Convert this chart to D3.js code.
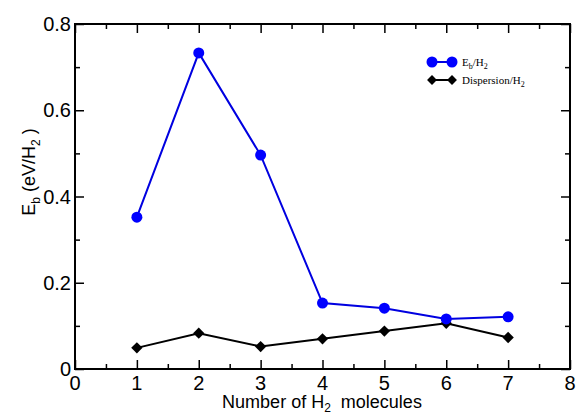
<!DOCTYPE html>
<html>
<head>
<meta charset="utf-8">
<script src="https://cdn.jsdelivr.net/npm/d3@7"></script>
<style>
  body { margin: 0; background: #fff; }
  text { font-family: "Liberation Sans", Arial, sans-serif; }
  .leg { font-family: "Liberation Serif", "Times New Roman", serif; font-size: 11px; }
</style>
</head>
<body>
<div class="chart"></div>
<script>
// data
const molecules = [1, 2, 3, 4, 5, 6, 7];
const ebPerH2 = [0.352, 0.733, 0.496, 0.153, 0.141, 0.116, 0.121];
const dispersionPerH2 = [0.049, 0.083, 0.052, 0.070, 0.088, 0.106, 0.073];
const xTicks = [0, 1, 2, 3, 4, 5, 6, 7, 8];
const yTicks = [0, 0.2, 0.4, 0.6, 0.8];

let margin = {top: 24, right: 7, left: 75, bottom: 47};
let outWidth = 577, outHeight = 416;
let width = outWidth - margin.left - margin.right,
    height = outHeight - margin.top - margin.bottom;

const svg = d3.select(".chart").append("svg")
  .attr("width", outWidth)
  .attr("height", outHeight);

const g = svg.append("g")
  .attr("transform", `translate(${margin.left}, ${margin.top})`);

let xScale = d3.scaleLinear().domain([0, 8]).range([0, width]);
let yScale = d3.scaleLinear().domain([0, 0.8]).range([height, 0]);

// minor and major ticks on all four sides, pointing inwards
const xMinor = d3.range(0.5, 8, 1);
const yMinor = d3.range(0.1, 0.8, 0.2);

function tickAxis(axisFn, scale, values, size, transform) {
  g.append("g")
    .attr("transform", transform)
    .call(axisFn(scale).tickValues(values).tickSize(size).tickFormat(""))
    .call(a => a.select(".domain").remove())
    .selectAll("line").attr("stroke", "#000").attr("stroke-width", 1.5);
}
tickAxis(d3.axisTop, xScale, xTicks, 9, `translate(0,${height})`);
tickAxis(d3.axisTop, xScale, xMinor, 5, `translate(0,${height})`);
tickAxis(d3.axisBottom, xScale, xTicks, 9, "translate(0,0)");
tickAxis(d3.axisBottom, xScale, xMinor, 5, "translate(0,0)");
tickAxis(d3.axisRight, yScale, yTicks, 9, "translate(0,0)");
tickAxis(d3.axisRight, yScale, yMinor, 5, "translate(0,0)");
tickAxis(d3.axisLeft, yScale, yTicks, 9, `translate(${width},0)`);
tickAxis(d3.axisLeft, yScale, yMinor, 5, `translate(${width},0)`);

g.append("rect")
  .attr("width", width)
  .attr("height", height)
  .attr("fill", "none")
  .attr("stroke", "#000")
  .attr("stroke-width", 2);

// tick labels
g.selectAll(".xlab").data(xTicks).enter().append("text")
  .attr("x", d => xScale(d))
  .attr("y", height + 21)
  .attr("text-anchor", "middle")
  .attr("font-size", 20)
  .text(d => d);

g.selectAll(".ylab").data(yTicks).enter().append("text")
  .attr("x", -4)
  .attr("y", d => yScale(d) + 7)
  .attr("text-anchor", "end")
  .attr("font-size", 20)
  .text(d => d === 0 ? "0" : d.toFixed(1));

// axis titles
const xt = svg.append("text")
  .attr("x", 322)
  .attr("y", 408)
  .attr("text-anchor", "middle")
  .attr("font-size", 18);
xt.append("tspan").text("Number of H");
xt.append("tspan").attr("font-size", 12).attr("dy", 4).text("2");
xt.append("tspan").attr("dy", -4).text("\u00a0 molecules");

const yt = svg.append("text")
  .attr("transform", "translate(35,172) rotate(-90)")
  .attr("text-anchor", "middle")
  .attr("font-size", 18);
yt.append("tspan").text("E");
yt.append("tspan").attr("font-size", 12).attr("dy", 5).text("b");
yt.append("tspan").attr("dy", -5).text(" (eV/H");
yt.append("tspan").attr("font-size", 12).attr("dy", 5).text("2");
yt.append("tspan").attr("dy", -5).text("\u00a0)");

// series
const line = d3.line().x(d => xScale(d[0])).y(d => yScale(d[1]));
const ebData = molecules.map((m, i) => [m, ebPerH2[i]]);
const dispData = molecules.map((m, i) => [m, dispersionPerH2[i]]);

g.append("path").datum(dispData)
  .attr("d", line).attr("fill", "none").attr("stroke", "#000").attr("stroke-width", 2);
g.selectAll(".dia").data(dispData).enter().append("path")
  .attr("transform", d => `translate(${xScale(d[0])},${yScale(d[1])}) rotate(45)`)
  .attr("d", "M-4,-4H4V4H-4Z")
  .attr("fill", "#000");

g.append("path").datum(ebData)
  .attr("d", line).attr("fill", "none").attr("stroke", "#0000e0").attr("stroke-width", 2);
g.selectAll(".dot").data(ebData).enter().append("circle")
  .attr("cx", d => xScale(d[0]))
  .attr("cy", d => yScale(d[1]))
  .attr("r", 5.5)
  .attr("fill", "#0000ff");

// legend
const leg = svg.append("g");
leg.append("line").attr("x1", 432).attr("x2", 452).attr("y1", 62).attr("y2", 62)
  .attr("stroke", "#0000e0").attr("stroke-width", 2);
leg.selectAll(".lc").data([432, 452]).enter().append("circle")
  .attr("cx", d => d).attr("cy", 62).attr("r", 5.5).attr("fill", "#0000ff");
leg.append("line").attr("x1", 432).attr("x2", 452).attr("y1", 80).attr("y2", 80)
  .attr("stroke", "#000").attr("stroke-width", 2);
leg.selectAll(".ld").data([432, 452]).enter().append("path")
  .attr("transform", d => `translate(${d},80) rotate(45)`)
  .attr("d", "M-3.5,-3.5H3.5V3.5H-3.5Z").attr("fill", "#000");

const l1 = leg.append("text").attr("class", "leg").attr("x", 462).attr("y", 66);
l1.append("tspan").text("E");
l1.append("tspan").attr("font-size", 8).attr("dy", 3).text("b");
l1.append("tspan").attr("dy", -3).text("/H");
l1.append("tspan").attr("font-size", 8).attr("dy", 3).text("2");

const l2 = leg.append("text").attr("class", "leg").attr("x", 462).attr("y", 84);
l2.append("tspan").text("Dispersion/H");
l2.append("tspan").attr("font-size", 8).attr("dy", 3).text("2");
</script>
</body>
</html>
